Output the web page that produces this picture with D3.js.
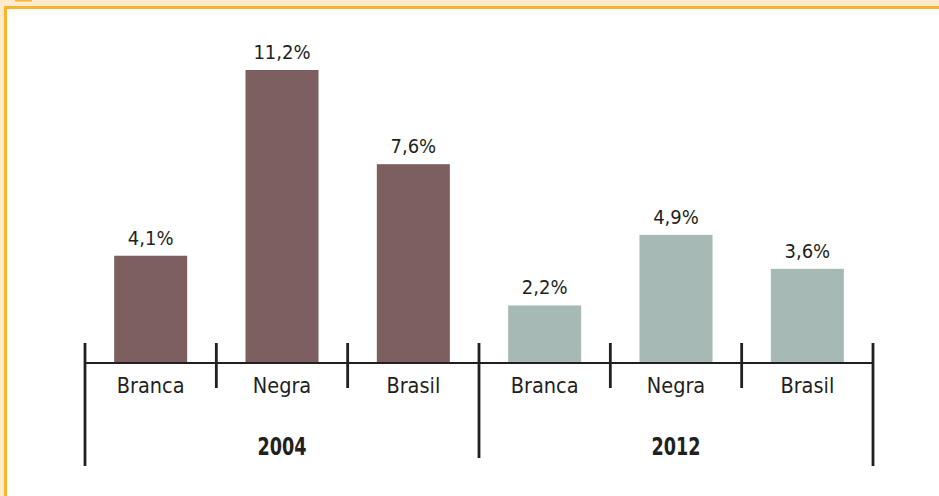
<!DOCTYPE html>
<html>
<head>
<meta charset="utf-8">
<script src="https://cdn.jsdelivr.net/npm/d3@7"></script>
<style>
  html, body { margin: 0; padding: 0; background: #fff; }
  svg { display: block; }
  text { font-family: "DejaVu Sans Condensed", "Liberation Sans Narrow", sans-serif; fill: #231f20; }
</style>
</head>
<body>
<svg id="chart" width="939" height="496"></svg>
<script>
const years = ["2004", "2012"];
const categories = ["Branca", "Negra", "Brasil"];
const values2004 = [4.1, 11.2, 7.6];
const values2012 = [2.2, 4.9, 3.6];
const seriesValues = [values2004, values2012];
const seriesColors = ["#7e5f60", "#a6b9b4"];

const rows = [];
years.forEach((yr, gi) => {
  categories.forEach((c, ci) => {
    rows.push({ key: yr + "-" + c, year: yr, cat: c, value: seriesValues[gi][ci], color: seriesColors[gi], gi });
  });
});

const svg = d3.select("#chart");

// frame
svg.append("rect").attr("x", 0).attr("y", 0).attr("width", 939).attr("height", 6).attr("fill", "#ffebcb");
svg.append("rect").attr("x", 0).attr("y", 0).attr("width", 4).attr("height", 496).attr("fill", "#ffebcb");
svg.append("rect").attr("x", 4).attr("y", 6).attr("width", 935).attr("height", 3).attr("fill", "#fbb430");
svg.append("rect").attr("x", 4).attr("y", 6).attr("width", 3).attr("height", 490).attr("fill", "#fbb430");
svg.append("rect").attr("x", 15).attr("y", 0).attr("width", 17).attr("height", 1.5).attr("fill", "#fbb430");

const x0 = 85, x1 = 873, baseY = 363;
const pIn = 0.444;
const x = d3.scaleBand().domain(rows.map(d => d.key)).range([x0, x1]).paddingInner(pIn).paddingOuter(pIn / 2);
const y = d3.scaleLinear().domain([0, 12]).range([baseY, baseY - 12 * 26.16]);

const locale = d3.formatLocale({ decimal: ",", thousands: ".", grouping: [3], currency: ["R$", ""] });
const fmt = locale.format(".1f");

// bars
svg.append("g").selectAll("rect").data(rows).join("rect")
  .attr("x", d => x(d.key))
  .attr("y", d => y(d.value))
  .attr("width", x.bandwidth())
  .attr("height", d => y(0) - y(d.value))
  .attr("fill", d => d.color);

// value labels
svg.append("g").selectAll("text").data(rows).join("text")
  .attr("x", d => x(d.key) + x.bandwidth() / 2)
  .attr("y", d => y(d.value) - 11)
  .attr("text-anchor", "middle")
  .style("font-size", "20px")
  .text(d => fmt(d.value) + "%");

// baseline
svg.append("line").attr("x1", x0).attr("x2", x1).attr("y1", baseY).attr("y2", baseY)
  .attr("stroke", "#231f20").attr("stroke-width", 2.2);

// ticks at band edges
const step = x.step();
const edges = d3.range(rows.length + 1).map(i => ({ i, x: x0 + i * step }));
svg.append("g").selectAll("line").data(edges).join("line")
  .attr("x1", d => d.x).attr("x2", d => d.x)
  .attr("y1", 343)
  .attr("y2", d => d.i % categories.length !== 0 ? 388 : (d.i === 0 || d.i === rows.length ? 466 : 458))
  .attr("stroke", "#231f20").attr("stroke-width", 2.8);

// category labels
svg.append("g").selectAll("text").data(rows).join("text")
  .attr("x", d => x(d.key) + x.bandwidth() / 2)
  .attr("y", 393)
  .attr("text-anchor", "middle")
  .style("font-size", "21.5px")
  .text(d => d.cat);

// year labels
svg.append("g").selectAll("text").data(years).join("text")
  .attr("x", (d, gi) => x0 + (gi * categories.length + categories.length / 2) * step)
  .attr("y", 455)
  .attr("text-anchor", "middle")
  .attr("textLength", 49)
  .attr("lengthAdjust", "spacingAndGlyphs")
  .style("font-size", "24.5px")
  .style("font-weight", "bold")
  .text(d => d);
</script>
</body>
</html>
